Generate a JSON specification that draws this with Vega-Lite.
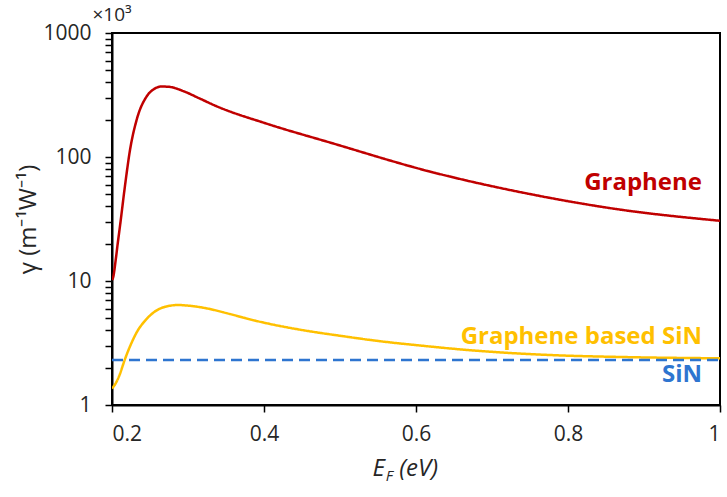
{
  "$schema": "https://vega.github.io/schema/vega-lite/v6.json",
  "width": 608,
  "height": 372,
  "autosize": "none",
  "padding": {"left": 112, "top": 33, "right": 7, "bottom": 92},
  "background": "white",
  "config": {
    "font": "Open Sans",
    "view": {"stroke": "#000000", "strokeWidth": 2},
    "axis": {
      "domainColor": "#000000",
      "domainWidth": 2,
      "tickColor": "#000000",
      "tickWidth": 1.5,
      "tickSize": 7,
      "labelFont": "Open Sans",
      "labelFontSize": 21,
      "labelColor": "#262626",
      "titleFont": "Open Sans",
      "titleFontWeight": "normal",
      "titleColor": "#262626",
      "grid": false
    }
  },
  "datasets": {
    "curves": [
      {"series": "Graphene", "E": 0.2, "gamma": 10.2},
      {"series": "Graphene", "E": 0.2015, "gamma": 10.7},
      {"series": "Graphene", "E": 0.205, "gamma": 15},
      {"series": "Graphene", "E": 0.2075, "gamma": 20},
      {"series": "Graphene", "E": 0.2105, "gamma": 27.7},
      {"series": "Graphene", "E": 0.217, "gamma": 58},
      {"series": "Graphene", "E": 0.2237, "gamma": 114},
      {"series": "Graphene", "E": 0.2325, "gamma": 200},
      {"series": "Graphene", "E": 0.2456, "gamma": 308},
      {"series": "Graphene", "E": 0.255, "gamma": 352},
      {"series": "Graphene", "E": 0.265, "gamma": 370},
      {"series": "Graphene", "E": 0.275, "gamma": 368},
      {"series": "Graphene", "E": 0.2938, "gamma": 340},
      {"series": "Graphene", "E": 0.315, "gamma": 297},
      {"series": "Graphene", "E": 0.3374, "gamma": 257},
      {"series": "Graphene", "E": 0.4032, "gamma": 186},
      {"series": "Graphene", "E": 0.4865, "gamma": 131},
      {"series": "Graphene", "E": 0.618, "gamma": 76.4},
      {"series": "Graphene", "E": 0.7496, "gamma": 50.3},
      {"series": "Graphene", "E": 0.868, "gamma": 37.7},
      {"series": "Graphene", "E": 1.0, "gamma": 30.6},
      {"series": "Graphene based SiN", "E": 0.2, "gamma": 1.36},
      {"series": "Graphene based SiN", "E": 0.205, "gamma": 1.5},
      {"series": "Graphene based SiN", "E": 0.21, "gamma": 1.75},
      {"series": "Graphene based SiN", "E": 0.2167, "gamma": 2.31},
      {"series": "Graphene based SiN", "E": 0.225, "gamma": 3.1},
      {"series": "Graphene based SiN", "E": 0.234, "gamma": 4.0},
      {"series": "Graphene based SiN", "E": 0.245, "gamma": 4.9},
      {"series": "Graphene based SiN", "E": 0.256, "gamma": 5.65},
      {"series": "Graphene based SiN", "E": 0.27, "gamma": 6.2},
      {"series": "Graphene based SiN", "E": 0.287, "gamma": 6.4},
      {"series": "Graphene based SiN", "E": 0.3, "gamma": 6.33},
      {"series": "Graphene based SiN", "E": 0.322, "gamma": 6.06},
      {"series": "Graphene based SiN", "E": 0.3549, "gamma": 5.42},
      {"series": "Graphene based SiN", "E": 0.3878, "gamma": 4.8},
      {"series": "Graphene based SiN", "E": 0.4207, "gamma": 4.34},
      {"series": "Graphene based SiN", "E": 0.4536, "gamma": 3.99},
      {"series": "Graphene based SiN", "E": 0.4996, "gamma": 3.62},
      {"series": "Graphene based SiN", "E": 0.5562, "gamma": 3.25},
      {"series": "Graphene based SiN", "E": 0.6049, "gamma": 3.02},
      {"series": "Graphene based SiN", "E": 0.6667, "gamma": 2.78},
      {"series": "Graphene based SiN", "E": 0.7759, "gamma": 2.53},
      {"series": "Graphene based SiN", "E": 0.868, "gamma": 2.44},
      {"series": "Graphene based SiN", "E": 1.0, "gamma": 2.38},
      {"series": "SiN", "E": 0.2, "gamma": 2.31},
      {"series": "SiN", "E": 1.0, "gamma": 2.31}
    ],
    "labels": [
      {"series": "Graphene", "label": "Graphene", "E": 1.0, "gamma": 61.7},
      {"series": "Graphene based SiN", "label": "Graphene based SiN", "E": 1.0, "gamma": 3.55},
      {"series": "SiN", "label": "SiN", "E": 1.0, "gamma": 1.746}
    ]
  },
  "layer": [
    {
      "data": {"name": "curves"},
      "mark": {"type": "line", "strokeWidth": 2.5, "interpolate": "monotone", "clip": true},
      "encoding": {
        "x": {
          "field": "E", "type": "quantitative",
          "scale": {"domain": [0.2, 1.0], "nice": false, "zero": false},
          "axis": {
            "values": [0.2, 0.4, 0.6, 0.8, 1.0],
            "format": "~g",
            "labelPadding": 11,
            "title": null
          }
        },
        "y": {
          "field": "gamma", "type": "quantitative",
          "scale": {"type": "log", "domain": [1, 1000], "nice": false},
          "axis": {
            "values": [1,2,3,4,5,6,7,8,9,10,20,30,40,50,60,70,80,90,100,200,300,400,500,600,700,800,900,1000],
            "labelExpr": "indexof([1,10,100,1000], datum.value) >= 0 ? format(datum.value, 'd') : ''",
            "labelPadding": 14,
            "title": "γ (m⁻¹W⁻¹)",
            "titleFontSize": 24,
            "titlePadding": 2
          }
        },
        "detail": {"field": "series"},
        "color": {
          "field": "series", "type": "nominal",
          "scale": {"domain": ["Graphene", "Graphene based SiN", "SiN"], "range": ["#C00000", "#FFC000", "#2E75D0"]},
          "legend": null
        },
        "strokeDash": {
          "field": "series", "type": "nominal",
          "scale": {"domain": ["Graphene", "Graphene based SiN", "SiN"], "range": [[1, 0], [1, 0], [11, 6]]},
          "legend": null
        }
      }
    },
    {
      "data": {"name": "labels"},
      "mark": {"type": "text", "align": "right", "baseline": "middle", "dx": -18, "fontSize": 24, "fontWeight": "bold", "font": "Open Sans"},
      "encoding": {
        "x": {"field": "E", "type": "quantitative"},
        "y": {"field": "gamma", "type": "quantitative"},
        "text": {"field": "label"},
        "color": {"field": "series", "type": "nominal", "legend": null}
      }
    },
    {
      "data": {"values": [{}]},
      "mark": {"type": "text", "align": "center", "baseline": "alphabetic", "dy": -12, "fontSize": 19, "color": "#262626", "clip": false},
      "encoding": {
        "x": {"datum": 0.2, "type": "quantitative"},
        "y": {"datum": 1000, "type": "quantitative"},
        "text": {"value": "×10³"}
      }
    },
    {
      "data": {"values": [{}]},
      "mark": {"type": "text", "align": "left", "baseline": "alphabetic", "fontSize": 24, "fontStyle": "italic", "color": "#262626", "clip": false},
      "encoding": {
        "x": {"datum": 0.5426, "type": "quantitative"},
        "y": {"datum": 0.2676, "type": "quantitative"},
        "text": {"value": "E"}
      }
    },
    {
      "data": {"values": [{}]},
      "mark": {"type": "text", "align": "left", "baseline": "alphabetic", "dy": 5, "fontSize": 15, "fontStyle": "italic", "color": "#262626", "clip": false},
      "encoding": {
        "x": {"datum": 0.5601, "type": "quantitative"},
        "y": {"datum": 0.2676, "type": "quantitative"},
        "text": {"value": "F"}
      }
    },
    {
      "data": {"values": [{}]},
      "mark": {"type": "text", "align": "left", "baseline": "alphabetic", "fontSize": 24, "fontStyle": "italic", "color": "#262626", "clip": false},
      "encoding": {
        "x": {"datum": 0.578, "type": "quantitative"},
        "y": {"datum": 0.2676, "type": "quantitative"},
        "text": {"value": "(eV)"}
      }
    }
  ]
}
